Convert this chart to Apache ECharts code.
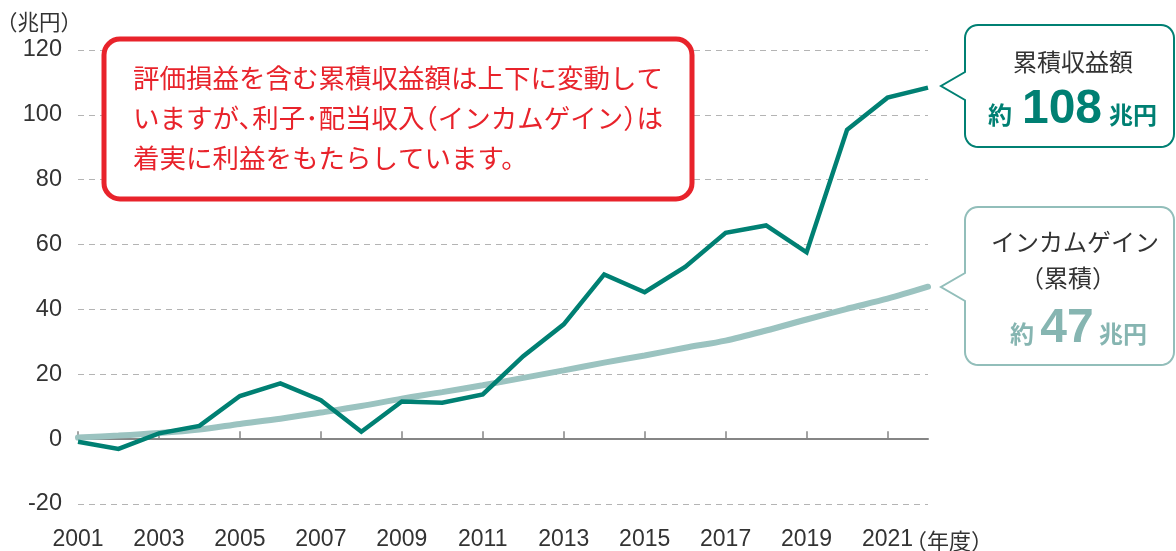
<!DOCTYPE html>
<html>
<head>
<meta charset="utf-8">
<script src="https://cdn.jsdelivr.net/npm/echarts@6/dist/echarts.min.js"></script>
<style>
  html, body { margin: 0; padding: 0; background: #fff; }
  #chart { width: 1176px; height: 551px; }
</style>
</head>
<body>
<div id="chart"></div>
<script>
// ---- data ----
const years = ['2001','2002','2003','2004','2005','2006','2007','2008','2009','2010','2011',
               '2012','2013','2014','2015','2016','2017','2018','2019','2020','2021','2022'];
const cumulativeReturn = [-0.8, -3.0, 1.8, 4.1, 13.3, 17.2, 12.0, 2.3, 11.6, 11.2, 13.8,
                          25.6, 35.4, 50.8, 45.3, 53.1, 63.6, 65.9, 57.6, 95.4, 105.3, 108.4];
const incomeGain = [0.5, 1.1, 1.9, 3.0, 4.7, 6.3, 8.2, 10.2, 12.5, 14.5, 16.6,
                    18.9, 21.2, 23.6, 25.8, 28.2, 30.4, 33.5, 36.9, 40.2, 43.3, 47.0];
const yTicks = { min: -20, max: 120, interval: 20 };
const seriesNames = ['インカムゲイン（累積）', '累積収益額'];

// ---- styles ----
const DARK = '#008073';
const LIGHT = '#9bc3c0';
const LIGHT_TEXT = '#86b5b1';
const RED = '#e8232b';
const JP = '"Noto Sans CJK JP", sans-serif';
const NUM = '"Liberation Sans", Arial, sans-serif';

const chart = echarts.init(document.getElementById('chart'), null, { renderer: 'canvas' });

function txt(text, x, y, font, fill, align) {
  return {
    type: 'text', z: 100,
    style: { text: text, x: x, y: y, font: font, fill: fill,
             align: align || 'left', textAlign: align || 'left',
             verticalAlign: 'middle', textVerticalAlign: 'middle' }
  };
}

// rounded box outline with a left-pointing speech pointer
function calloutPoints(x0, y0, x1, y1, r, tipX, tipY, baseTop, baseBot) {
  const pts = [];
  function arc(cx, cy, a0, a1) {
    const n = 8;
    for (let i = 0; i <= n; i++) {
      const a = a0 + (a1 - a0) * i / n;
      pts.push([cx + r * Math.cos(a), cy + r * Math.sin(a)]);
    }
  }
  arc(x0 + r, y0 + r, Math.PI, 1.5 * Math.PI);
  arc(x1 - r, y0 + r, 1.5 * Math.PI, 2 * Math.PI);
  arc(x1 - r, y1 - r, 0, 0.5 * Math.PI);
  arc(x0 + r, y1 - r, 0.5 * Math.PI, Math.PI);
  pts.push([x0, baseBot], [tipX, tipY], [x0, baseTop]);
  return pts;
}

const redFont = '26.5px ' + JP;
const em = 26.5;
const rx = 133;

const option = {
  animation: false,
  grid: { left: 78, right: 248, top: 50, bottom: 46, containLabel: false },
  xAxis: [
    {
      type: 'category', data: years, boundaryGap: false, position: 'bottom',
      axisLine: { show: false, onZero: false },
      axisTick: { show: false },
      axisLabel: { interval: 1, margin: 24, fontSize: 23, color: '#333', fontFamily: NUM },
      splitLine: { show: false }
    },
    {
      type: 'category', data: years, boundaryGap: false, position: 'bottom',
      axisLine: { show: true, onZero: true, lineStyle: { color: '#858585', width: 2 } },
      axisTick: { show: true, inside: true, length: 8, interval: 1, lineStyle: { color: '#858585', width: 1.5 } },
      axisLabel: { show: false },
      splitLine: { show: false }
    }
  ],
  yAxis: {
    type: 'value', min: yTicks.min, max: yTicks.max, interval: yTicks.interval,
    axisLine: { show: false }, axisTick: { show: false },
    axisLabel: { margin: 16, fontSize: 23.5, color: '#333', fontFamily: NUM },
    splitLine: { show: true, lineStyle: { color: '#b4b4b4', type: [6, 5], width: 1 } }
  },
  series: [
    {
      name: seriesNames[0], type: 'line', xAxisIndex: 0, data: incomeGain,
      symbol: 'none', smooth: 0.3, z: 2,
      lineStyle: { color: LIGHT, width: 6, cap: 'round' }
    },
    {
      name: seriesNames[1], type: 'line', xAxisIndex: 0, data: cumulativeReturn,
      symbol: 'none', z: 3,
      lineStyle: { color: DARK, width: 4.5, join: 'miter', cap: 'butt' }
    }
  ],
  graphic: [
    // axis units
    txt('（兆円）', -4, 22, '21.5px ' + JP, '#333'),
    txt('（年度）', 905, 541, '22px ' + JP, '#333'),
    // red note box
    {
      type: 'rect', z: 90,
      shape: { x: 104, y: 39, width: 588, height: 160, r: 16 },
      style: { fill: '#fff', stroke: RED, lineWidth: 5 }
    },
    txt('評価損益を含む累積収益額は上下に変動して', rx, 78, redFont, RED),
    txt('いますが、', rx, 118, redFont, RED),
    txt('利子･配当収入', rx + 4.5 * em, 118, redFont, RED),
    txt('（インカムゲイン）', rx + 10.5 * em, 118, redFont, RED),
    txt('は', rx + 19 * em, 118, redFont, RED),
    txt('着実に利益をもたらしています。', rx, 158, redFont, RED),
    // dark callout
    {
      type: 'polygon', z: 90,
      shape: { points: calloutPoints(965, 25, 1174, 147, 13, 941, 86, 72, 100) },
      style: { fill: '#fff', stroke: DARK, lineWidth: 2 }
    },
    txt('累積収益額', 1073, 62, '24px ' + JP, '#333', 'center'),
    txt('約', 1000, 115, 'bold 24px ' + JP, DARK, 'center'),
    txt('108', 1062, 110, 'bold 48px ' + NUM, DARK, 'center'),
    txt('兆円', 1133, 115, 'bold 24px ' + JP, DARK, 'center'),
    // light callout
    {
      type: 'polygon', z: 90,
      shape: { points: calloutPoints(965, 207, 1174, 365, 13, 941, 287, 273, 301) },
      style: { fill: '#fff', stroke: '#92beba', lineWidth: 2 }
    },
    txt('インカムゲイン', 1075, 242, '24px ' + JP, '#333', 'center'),
    txt('（累積）', 1020, 278, '24px ' + JP, '#333'),
    txt('約', 1022, 334, 'bold 24px ' + JP, LIGHT_TEXT, 'center'),
    txt('47', 1067, 329, 'bold 48px ' + NUM, LIGHT_TEXT, 'center'),
    txt('兆円', 1123, 334, 'bold 24px ' + JP, LIGHT_TEXT, 'center')
  ]
};
chart.setOption(option);
</script>
</body>
</html>
